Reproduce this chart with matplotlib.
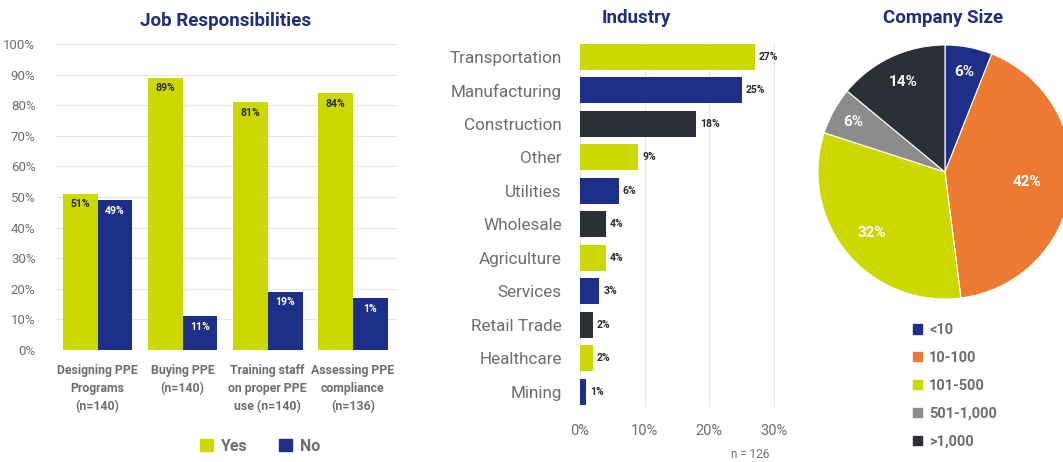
import numpy as np
import matplotlib.pyplot as plt
from matplotlib.patches import Patch

plt.rcParams['font.family'] = ['Roboto', 'DejaVu Sans']

# job responsibilities
tasks = ['Designing PPE\nPrograms\n(n=140)', 'Buying PPE\n(n=140)',
         'Training staff\non proper PPE\nuse (n=140)', 'Assessing PPE\ncompliance\n(n=136)']
yes_vals = [51, 89, 81, 84]
no_vals = [49, 11, 19, 17]
yes_labels = ['51%', '89%', '81%', '84%']
no_labels = ['49%', '11%', '19%', '1%']

# industry
industries = ['Transportation', 'Manufacturing', 'Construction', 'Other', 'Utilities',
              'Wholesale', 'Agriculture', 'Services', 'Retail Trade', 'Healthcare', 'Mining']
industry_vals = [27, 25, 18, 9, 6, 4, 4, 3, 2, 2, 1]

# company size
sizes = ['<10', '10-100', '101-500', '501-1,000', '>1,000']
size_vals = [6, 42, 32, 6, 14]

LIME = '#CBD900'
NAVY = '#1E2F8A'
DARK = '#2C3036'
ORANGE = '#EC7A30'
GRAY = '#8C8C8C'
TITLE = '#1F2F78'
TXT = '#6E6E6E'

fig = plt.figure(figsize=(10.63, 4.62), dpi=100)

# ---- left: grouped bars
ax1 = fig.add_axes([55/1063, 1-350/462, 342/1063, 306/462])
x = np.arange(len(tasks))
w = 0.41
b_yes = ax1.bar(x - w/2, yes_vals, w, color=LIME, zorder=2)
b_no = ax1.bar(x + w/2, no_vals, w, color=NAVY, zorder=2)
for r, t in zip(b_yes, yes_labels):
    ax1.annotate(t, (r.get_x() + r.get_width()/2, r.get_height()), xytext=(0, -4),
                 textcoords='offset points', ha='center', va='top',
                 fontsize=7.5, fontweight='bold', color='#2a2a2a')
for r, t in zip(b_no, no_labels):
    ax1.annotate(t, (r.get_x() + r.get_width()/2, r.get_height()), xytext=(0, -4),
                 textcoords='offset points', ha='center', va='top',
                 fontsize=7.5, fontweight='bold', color='white')
ax1.set_ylim(0, 100)
ax1.set_xlim(-0.5, 3.52)
ax1.set_yticks(range(0, 101, 10))
ax1.set_yticklabels([f'{v}%' for v in range(0, 101, 10)], color=TXT, fontsize=9.5)
ax1.set_xticks(x)
ax1.set_xticklabels(tasks, color=TXT, fontsize=8.8, fontweight='bold', linespacing=1.5)
ax1.tick_params(length=0, pad=10)
ax1.tick_params(axis='y', pad=14)
ax1.grid(axis='y', color='#E6E6E6', lw=0.8, zorder=0)
for s in ax1.spines.values():
    s.set_visible(False)
ax1.set_title('Job Responsibilities', color=TITLE, fontsize=13.5, fontweight='bold', pad=13)
leg1 = ax1.legend(handles=[Patch(color=LIME, label='Yes'), Patch(color=NAVY, label='No')],
                  loc='center', bbox_to_anchor=(0.6, -0.315), ncol=2, frameon=False,
                  handlelength=0.8, handleheight=0.8, handletextpad=0.5, columnspacing=2.0,
                  prop={'size': 11.5, 'weight': 'bold'})
for t in leg1.get_texts():
    t.set_color(TXT)

# ---- middle: horizontal bars
ax2 = fig.add_axes([580/1063, 1-407/462, 207/1063, 364/462])
cycle = [LIME, NAVY, DARK]
cols = [cycle[i % 3] for i in range(len(industries))]
y = np.arange(len(industries))
bars = ax2.barh(y, industry_vals, height=0.78, color=cols, zorder=2)
for r, v in zip(bars, industry_vals):
    ax2.text(v + 0.6, r.get_y() + r.get_height()/2, f'{v}%', va='center', ha='left',
             fontsize=7.5, fontweight='bold', color='#2a2a2a')
ax2.set_ylim(len(industries) - 0.54, -0.41)
ax2.set_xlim(0, 32)
ax2.set_yticks(y)
ax2.set_yticklabels(industries, color=TXT, fontsize=12.3)
ax2.set_xticks([0, 10, 20, 30])
ax2.set_xticklabels(['0%', '10%', '20%', '30%'], color=TXT, fontsize=10.5)
ax2.tick_params(length=0)
ax2.tick_params(axis='y', pad=13)
ax2.tick_params(axis='x', pad=12)
ax2.grid(axis='x', color='#E6E6E6', lw=0.8, zorder=0)
for s in ax2.spines.values():
    s.set_visible(False)
fig.text(636/1063, 1-18/462, 'Industry', color=TITLE, fontsize=13.5, fontweight='bold',
         ha='center', va='center')
fig.text(750/1063, 1-455/462, 'n = 126', color=TXT, fontsize=8.5, ha='center', va='center')

# ---- right: pie
ax3 = fig.add_axes([818/1063, 1-299/462, 254/1063, 254/462])
pie_cols = [NAVY, ORANGE, LIME, GRAY, DARK]
wedges, _ = ax3.pie(size_vals, colors=pie_cols, startangle=90, counterclock=False,
                    wedgeprops=dict(edgecolor='white', linewidth=0.8))
dists = [0.8, 0.65, 0.75, 0.82, 0.78]
for wd, v, d in zip(wedges, size_vals, dists):
    ang = np.deg2rad((wd.theta1 + wd.theta2) / 2)
    ax3.text(d*np.cos(ang), d*np.sin(ang), f'{v}%', ha='center', va='center',
             color='white', fontsize=11, fontweight='bold')
ax3.set_xlim(-1, 1)
ax3.set_ylim(-1, 1)
ax3.set_aspect('equal')
fig.text(943/1063, 1-18/462, 'Company Size', color=TITLE, fontsize=13.5, fontweight='bold',
         ha='center', va='center')
leg3 = fig.legend(handles=[Patch(color=c, label=s) for c, s in zip(pie_cols, sizes)],
                  loc='upper left', bbox_to_anchor=(900/1063, 1-310/462), frameon=False,
                  handlelength=0.6, handleheight=0.6, handletextpad=0.5, labelspacing=0.95,
                  prop={'size': 10.5, 'weight': 'bold'})
for t in leg3.get_texts():
    t.set_color(TXT)

fig.savefig('out.png', dpi=100, facecolor='white')
